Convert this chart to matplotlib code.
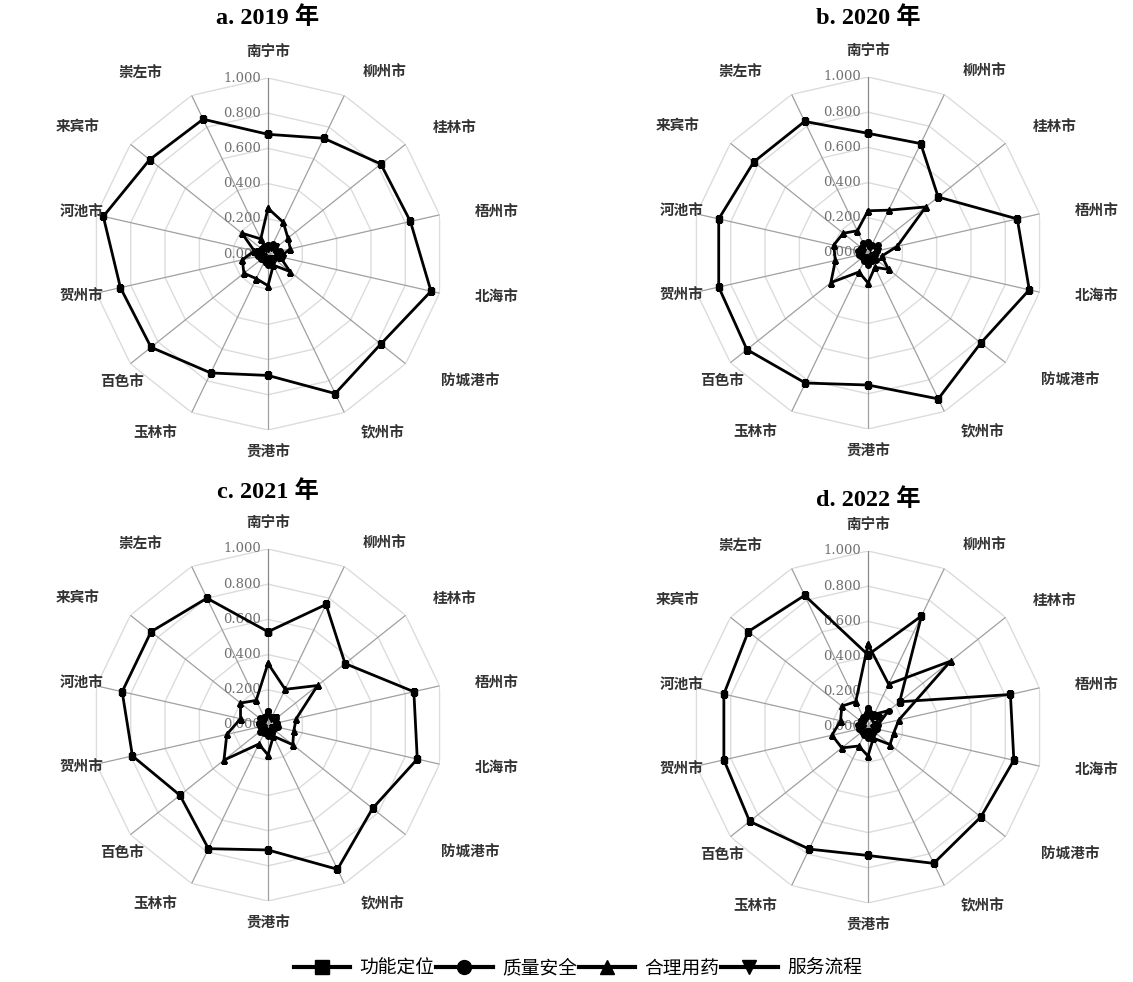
import numpy as np
import matplotlib.pyplot as plt
from matplotlib.lines import Line2D

cjk = ['Noto Sans CJK SC', 'DejaVu Sans']
serif = ['Liberation Serif', 'Noto Sans CJK SC']
plt.rcParams['font.family'] = cjk

cities = ['南宁市', '柳州市', '桂林市', '梧州市', '北海市', '防城港市', '钦州市',
          '贵港市', '玉林市', '百色市', '贺州市', '河池市', '来宾市', '崇左市']
titles = ['a. 2019 年', 'b. 2020 年', 'c. 2021 年', 'd. 2022 年']
series_names = ['功能定位', '质量安全', '合理用药', '服务流程']
ticks = [0.0, 0.2, 0.4, 0.6, 0.8, 1.0]

# 功能定位
gndw = [
    [0.68, 0.73, 0.82, 0.83, 0.95, 0.82, 0.88, 0.69, 0.75, 0.85, 0.86, 0.96, 0.86, 0.85],
    [0.68, 0.69, 0.51, 0.87, 0.94, 0.82, 0.92, 0.75, 0.82, 0.88, 0.87, 0.87, 0.83, 0.83],
    [0.53, 0.76, 0.56, 0.85, 0.87, 0.76, 0.91, 0.71, 0.78, 0.64, 0.79, 0.85, 0.85, 0.80],
    [0.41, 0.70, 0.23, 0.83, 0.85, 0.82, 0.86, 0.73, 0.77, 0.86, 0.84, 0.84, 0.87, 0.83],
]
# 质量安全
zlaq = [
    [0.05, 0.06, 0.05, 0.07, 0.06, 0.04, 0.05, 0.06, 0.04, 0.05, 0.06, 0.05, 0.04, 0.05],
    [0.06, 0.05, 0.07, 0.05, 0.04, 0.06, 0.05, 0.07, 0.05, 0.04, 0.05, 0.06, 0.05, 0.06],
    [0.08, 0.05, 0.06, 0.05, 0.06, 0.04, 0.05, 0.06, 0.05, 0.06, 0.04, 0.05, 0.06, 0.05],
    [0.11, 0.08, 0.15, 0.06, 0.05, 0.04, 0.05, 0.06, 0.05, 0.04, 0.05, 0.06, 0.05, 0.06],
]
# 合理用药
hlyy = [
    [0.26, 0.20, 0.145, 0.13, 0.07, 0.16, 0.07, 0.18, 0.155, 0.175, 0.15, 0.08, 0.19, 0.095],
    [0.24, 0.27, 0.42, 0.17, 0.08, 0.15, 0.09, 0.17, 0.12, 0.27, 0.19, 0.20, 0.18, 0.14],
    [0.35, 0.225, 0.36, 0.165, 0.15, 0.18, 0.07, 0.17, 0.12, 0.32, 0.24, 0.16, 0.20, 0.155],
    [0.47, 0.27, 0.60, 0.18, 0.15, 0.16, 0.07, 0.165, 0.12, 0.19, 0.21, 0.16, 0.19, 0.16],
]
# 服务流程
fwlc = [
    [0.03, 0.04, 0.06, 0.04, 0.09, 0.05, 0.03, 0.04, 0.05, 0.03, 0.04, 0.06, 0.04, 0.03],
    [0.04, 0.03, 0.05, 0.06, 0.04, 0.03, 0.04, 0.05, 0.03, 0.04, 0.05, 0.03, 0.04, 0.05],
    [0.07, 0.04, 0.06, 0.04, 0.05, 0.03, 0.04, 0.05, 0.04, 0.03, 0.05, 0.04, 0.03, 0.04],
    [0.06, 0.05, 0.08, 0.04, 0.03, 0.05, 0.04, 0.03, 0.04, 0.05, 0.03, 0.04, 0.05, 0.04],
]
markers = ['s', 'o', '^', 'v']

# label centres relative to radius (x, y)
lab_xy = [(0, 1.148), (0.665, 1.034), (1.06, 0.722), (1.30, 0.239), (1.30, -0.239),
          (1.148, -0.722), (0.653, -1.011), (0, -1.125), (-0.642, -1.011),
          (-0.83, -0.722), (-1.057, -0.239), (-1.057, 0.239), (-1.08, 0.722),
          (-0.727, 1.034)]

W, H = 1133, 982
fig = plt.figure(figsize=(W / 100, H / 100), dpi=100)

centers = [(268, 254), (868, 253), (268, 725), (868, 727)]
R = 176
title_y = [18, 18, 492, 500]

n = len(cities)
ang = np.arange(n) * 2 * np.pi / n
ang_c = np.append(ang, ang[0])

for k in range(4):
    cx, cy = centers[k]
    rect = [(cx - R) / W, 1 - (cy + R) / H, 2 * R / W, 2 * R / H]
    ax = fig.add_axes(rect, projection='polar')
    ax.set_theta_offset(np.pi / 2)
    ax.set_theta_direction(-1)
    ax.set_ylim(0, 1)
    ax.set_axis_off()

    # grid
    for r in ticks[1:]:
        ax.plot(ang_c, [r] * (n + 1), color='#dcdcdc', lw=1.0, zorder=1)
    for i, a in enumerate(ang):
        ax.plot([a, a], [0, 1], color='#a0a0a0' if i else '#888888', lw=0.9, zorder=1)
    for r in ticks:
        ax.annotate('%.3f' % r, xy=(0, r), xytext=(-5, 0), textcoords='offset points',
                    ha='right', va='center', fontsize=9.5, color='#707070',
                    family=['DejaVu Serif'], annotation_clip=False)

    data = [gndw[k], zlaq[k], hlyy[k], fwlc[k]]
    for vals, m in zip(data, markers):
        v = list(vals) + [vals[0]]
        ax.plot(ang_c, v, color='black', lw=2.0, marker=m, markersize=4, zorder=3)

    for name, (lx, ly) in zip(cities, lab_xy):
        th = np.pi / 2 - np.arctan2(ly, lx)
        ax.text(th, np.hypot(lx, ly), name, ha='center', va='center',
                fontsize=10.5, fontweight='bold', color='#333333', clip_on=False)

    fig.text(cx / W, 1 - title_y[k] / H, titles[k], ha='center', va='center',
             fontsize=17.5, fontweight='bold', family=serif)

handles = [Line2D([], [], color='black', lw=3, marker=m, markersize=10) for m in markers]
fig.legend(handles, series_names, loc='center', bbox_to_anchor=(0.51, 1 - 968 / H),
           ncol=4, frameon=False, fontsize=13.5, handlelength=3.0, handletextpad=0.5,
           columnspacing=0.1)

fig.savefig('out.png', dpi=100)
